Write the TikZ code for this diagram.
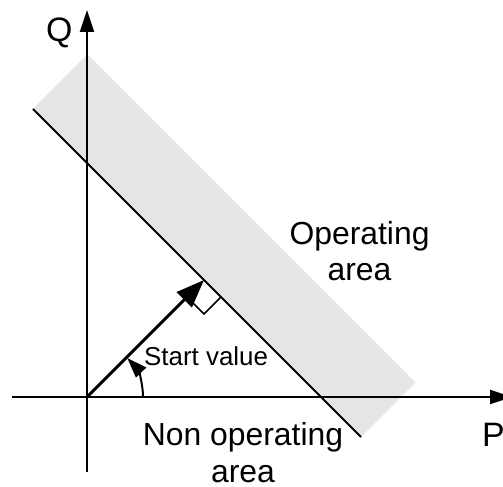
\documentclass[tikz,border=0pt]{standalone}
\usepackage{fontspec}
\setmainfont{Liberation Sans}
\usetikzlibrary{arrows.meta}
\definecolor{bandgray}{RGB}{230,230,230}
\begin{document}
\begin{tikzpicture}[x=1bp,y=-1bp,
  axis/.style={line width=2bp, -{Triangle[length=22bp,width=14bp]}},
  boundary/.style={line width=2bp},
  vec/.style={line width=3bp, -{Triangle[length=28bp,width=21bp]}},
  anglearc/.style={line width=2bp, -{Triangle[length=20bp,width=14bp]}},
  rightangle/.style={line width=1.6bp},
  lbl/.style={inner sep=0pt, font=\fontsize{32}{36}\selectfont},
  axlbl/.style={inner sep=0pt, font=\fontsize{34}{40}\selectfont},
  smalllbl/.style={inner sep=0pt, font=\fontsize{26}{30}\selectfont}]
\useasboundingbox (0,0) rectangle (503,487);
% coordinates
\coordinate (O) at (87,397);
\coordinate (Xs) at (12,397);
\coordinate (Xe) at (512,397);
\coordinate (Ys) at (87,472);
\coordinate (Ye) at (87,10);
\coordinate (L1) at (33,109);
\coordinate (L2) at (361,437);
\coordinate (F) at (204,280);
\coordinate (A0) at (143,397);
% operating band
\fill[bandgray] (L1) -- (87.5,54.5) -- (415.5,382.5) -- (L2) -- cycle;
% boundary line
\draw[boundary] (L1) -- (L2);
% axes
\draw[axis] (Xs) -- (Xe);
\draw[axis] (Ys) -- (Ye);
% right angle mark
\draw[rightangle] (221,297) -- (204,314) -- (187,297);
% start vector
\draw[vec] (O) -- (F);
% angle arc
\draw[anglearc] (A0) arc[start angle=0, end angle=44, radius=56bp];
% labels
\node[axlbl, anchor=base west] (qlab) at (46,42) {Q};
\node[axlbl, anchor=base west] (plab) at (482,446) {P};
\node[lbl, anchor=base] (op1) at (359.5,244) {Operating};
\node[lbl, anchor=base] (op2) at (359.5,280) {area};
\node[lbl, anchor=base] (no1) at (243,445) {Non operating};
\node[lbl, anchor=base] (no2) at (243,482) {area};
\node[smalllbl, anchor=base west] (sv) at (144,365) {Start value};
\end{tikzpicture}
\end{document}
